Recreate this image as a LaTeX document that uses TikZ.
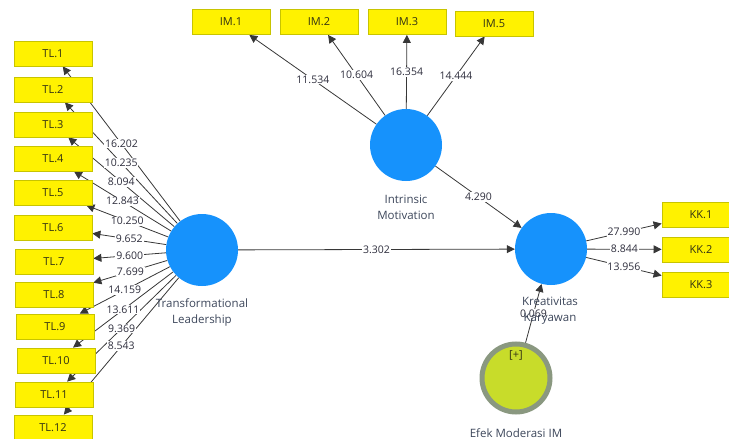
\documentclass[tikz,border=0pt]{standalone}
\usepackage{fontspec}
\setmainfont{Open Sans}
\usetikzlibrary{arrows.meta}
\pgfdeclarelayer{bg}
\pgfdeclarelayer{lbl}
\pgfsetlayers{bg,lbl,main}
\definecolor{lv}{RGB}{22,146,252}
\definecolor{boxedge}{RGB}{200,196,0}
\definecolor{boxtext}{RGB}{50,50,20}
\definecolor{linec}{RGB}{55,55,55}
\definecolor{wtc}{RGB}{45,45,60}
\definecolor{namec}{RGB}{60,70,90}
\definecolor{modfill}{RGB}{200,220,42}
\definecolor{modring}{RGB}{138,152,128}
\tikzset{
  ind/.style={rectangle, draw=boxedge, fill=yellow, minimum width=78pt, minimum height=25pt,
    inner sep=0pt, line width=0.8pt, font=\fontsize{11}{13}\selectfont, text=boxtext},
  lat/.style={circle, fill=lv, minimum size=72pt, inner sep=0pt},
  modlv/.style={circle, fill=modfill, draw=modring, line width=5pt, minimum size=68pt, inner sep=0pt},
  conn/.style={draw=linec, line width=0.8pt, -{Triangle[length=8pt,width=8pt]}},
  wt/.style={fill=white, inner sep=0.8pt, font=\fontsize{10.5}{12}\selectfont, text=wtc},
  lvname/.style={align=center, font=\fontsize{11.5}{16}\selectfont, text=namec}
}
\begin{document}
\begin{tikzpicture}[x=1pt,y=-1pt]
\useasboundingbox (0,0) rectangle (729,439);
\clip (0,0) rectangle (729,439);
% latent variables
\node[lat] (tl) at (202,250) {};
\node[lat] (im) at (406,145) {};
\node[lat] (kk) at (551,249) {};
\node[modlv] (mod) at (516,378) {};
% indicators
\foreach \i/\x/\y in {1/53/53.5,2/53/89.5,3/53/124.5,4/53/158.5,5/53/192.5,6/53/227.5,
  7/54/261.5,8/54/294.5,9/55/326.5,10/56/360.5,11/54/394.5,12/53/427.5}
  \node[ind] (tl\i) at (\x,\y) {TL.\i};
\foreach \i/\x/\y in {1/231/22,2/319/22,3/407/22,5/494/23.5}
  \node[ind] (im\i) at (\x,\y) {IM.\i};
\foreach \i/\y in {1/214.5,2/249.5,3/285}
  \node[ind] (kk\i) at (701,\y) {KK.\i};
% connectors
\begin{pgfonlayer}{bg}
\foreach \i in {1,...,12}
  \path[conn] (tl) -- (tl\i) coordinate[pos=.5] (ctl\i);
\foreach \i in {1,2,3,5}
  \path[conn] (im) -- (im\i) coordinate[pos=.5] (cim\i);
\foreach \i in {1,2,3}
  \path[conn] (kk) -- (kk\i) coordinate[pos=.5] (ckk\i);
\path[conn] (tl) -- (kk) coordinate[pos=.5] (ctk);
\path[conn] (im) -- (kk) coordinate[pos=.5] (cik);
\path[conn] (mod) -- (kk) coordinate[pos=.5] (cmk);
\end{pgfonlayer}
% weights
\begin{pgfonlayer}{lbl}
\foreach \i/\w in {1/16.202,2/10.235,3/8.094,4/12.843,5/10.250,6/9.652,7/9.600,8/7.699,
  9/14.159,10/13.611,11/9.369,12/8.543}
  \node[wt] at (ctl\i) {\w};
\foreach \i/\w in {1/11.534,2/10.604,3/16.354,5/14.444}
  \node[wt] at (cim\i) {\w};
\foreach \i/\w in {1/27.990,2/8.844,3/13.956}
  \node[wt] at (ckk\i) {\w};
\node[wt] at (ctk) {3.302};
\node[wt] at (cik) {4.290};
\node[wt] at (cmk) {0.069};
\end{pgfonlayer}
% names
\node[lvname] (ntl) at (202,312) {Transformational\\Leadership};
\node[lvname] (nim) at (406,207.5) {Intrinsic\\Motivation};
\node[lvname] (nkk) at (550,310.5) {Kreativitas\\Karyawan};
\node[lvname] (nmod) at (516,433) {Efek Moderasi IM};
\node[font=\fontsize{11}{13}\selectfont, text=boxtext] (plus) at (516,355) {[+]};
\end{tikzpicture}
\end{document}
